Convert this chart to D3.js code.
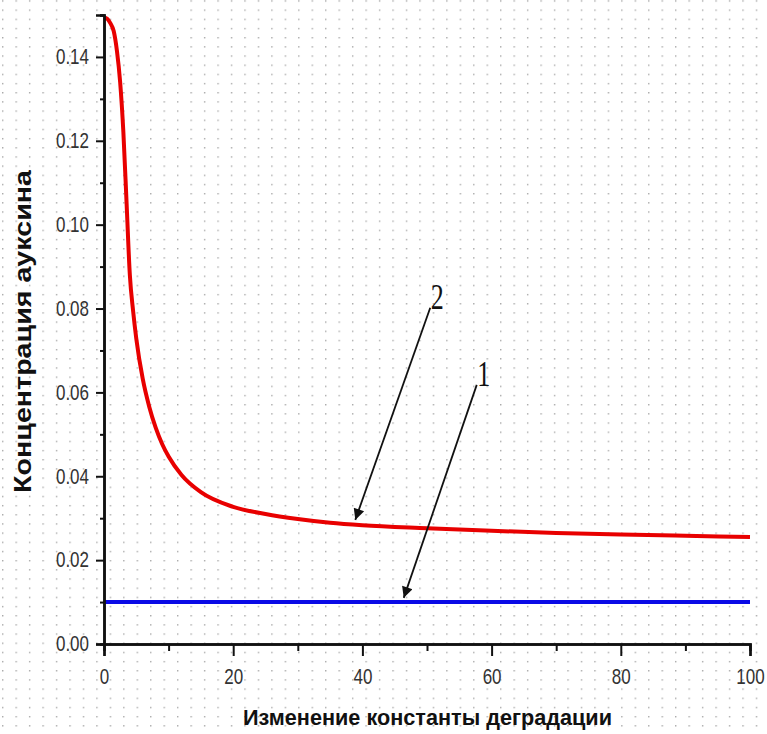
<!DOCTYPE html>
<html><head><meta charset="utf-8">
<script src="https://cdn.jsdelivr.net/npm/d3@7"></script>
<style>body{margin:0;background:#fff}svg{display:block}</style>
</head><body>
<script>
// Data
const xValues = [0,0.5,1,1.5,2,2.5,3,3.5,4,4.5,5,6,7,8,9,10,12,15,20,25,30,35,40,50,60,70,80,90,100];
const curve2 = [0.1494,0.1491,0.1480,0.1462,0.1415,0.134,0.122,0.105,0.088,0.0795,0.0728,0.0632,0.0566,0.0516,0.0477,0.0447,0.0403,0.0362,0.0327,0.0310,0.0298,0.0289,0.0283,0.0276,0.0270,0.0265,0.0261,0.0258,0.0255];
const curve1X = [0,100];
const curve1 = [0.01,0.01];
const xTicks = [0,20,40,60,80,100];
const yTicks = [0,0.02,0.04,0.06,0.08,0.10,0.12,0.14];
const xLabel = "Изменение константы деградации";
const yLabel = "Концентрация ауксина";
const annotations = [
  {label:"2", from:[50.5,0.0802], to:[38.9,0.0296]},
  {label:"1", from:[57.7,0.0618], to:[46.4,0.0110]}
];

const W=767,H=734;
const svg=d3.select("body").append("svg").attr("width",W).attr("height",H);
const defs=svg.append("defs");
const pat=defs.append("pattern").attr("id","dots").attr("patternUnits","userSpaceOnUse")
  .attr("width",13.46).attr("height",9.175).attr("x",2).attr("y",0.3);
pat.append("rect").attr("x",0).attr("y",0).attr("width",1.4).attr("height",1.4).attr("fill","#a8a8a8");
defs.append("marker").attr("id","arr").attr("viewBox","0 0 10 10").attr("refX",10).attr("refY",5)
  .attr("markerWidth",18).attr("markerHeight",11).attr("markerUnits","userSpaceOnUse").attr("orient","auto")
  .append("path").attr("d","M0,0L10,5L0,10Z").attr("fill","#111");

svg.append("rect").attr("width",W).attr("height",H).attr("fill","#fff");
svg.append("rect").attr("width",W).attr("height",H).attr("fill","url(#dots)");

const x=d3.scaleLinear().domain([0,100]).range([104,750]);
const y=d3.scaleLinear().domain([0,0.15]).range([644,15]);

// lines
const line=d3.line().x(d=>x(d[0])).y(d=>y(d[1])).curve(d3.curveMonotoneX);
svg.append("path").datum(curve1X.map((v,i)=>[v,curve1[i]])).attr("d",line)
  .attr("fill","none").attr("stroke","#0a0ae6").attr("stroke-width",4);
svg.append("path").datum(xValues.map((v,i)=>[v,curve2[i]])).attr("d",line)
  .attr("fill","none").attr("stroke","#e80000").attr("stroke-width",4).attr("stroke-linejoin","round");

// axes
svg.append("g").attr("transform",`translate(0,${y(0)})`)
  .call(d3.axisBottom(x).tickValues(d3.range(10,100,20)).tickSize(7).tickFormat(""));
const xMaj=svg.append("g").attr("transform",`translate(0,${y(0)})`)
  .call(d3.axisBottom(x).tickValues(xTicks).tickSize(12).tickPadding(14).tickFormat(d3.format("d")));
svg.append("g").attr("transform",`translate(${x(0)},0)`)
  .call(d3.axisLeft(y).tickValues(d3.range(0.01,0.16,0.02)).tickSize(4).tickFormat(""));
const yMaj=svg.append("g").attr("transform",`translate(${x(0)},0)`)
  .call(d3.axisLeft(y).tickValues(yTicks).tickSize(8).tickPadding(7).tickFormat(d3.format(".2f")));
svg.selectAll(".domain").attr("stroke","#111").attr("stroke-width",2.5);
svg.selectAll(".tick line").attr("stroke","#111").attr("stroke-width",2);
svg.selectAll(".tick text").attr("fill","#333").style("font-family","Liberation Sans, Arial, sans-serif").style("font-size","17px");
yMaj.selectAll(".tick text").attr("transform","scale(1,1.25)");
xMaj.selectAll(".tick text").attr("transform","translate(0,-8) scale(1,1.25)");

// axis titles
svg.append("text").attr("x",243).attr("y",725).attr("textLength",369).attr("lengthAdjust","spacingAndGlyphs")
  .style("font-family","Liberation Sans, Arial, sans-serif").style("font-weight","bold").style("font-size","22px")
  .attr("fill","#111").text(xLabel);
svg.append("text").attr("transform","translate(31,493) rotate(-90)").attr("textLength",323).attr("lengthAdjust","spacingAndGlyphs")
  .style("font-family","Liberation Sans, Arial, sans-serif").style("font-weight","bold").style("font-size","24px")
  .attr("fill","#111").text(yLabel);

// annotations
annotations.forEach(a=>{
  svg.append("line").attr("x1",x(a.from[0])).attr("y1",y(a.from[1])).attr("x2",x(a.to[0])).attr("y2",y(a.to[1]))
    .attr("stroke","#111").attr("stroke-width",1.8).attr("marker-end","url(#arr)");
  svg.append("text").attr("x",x(a.from[0])+7).attr("y",y(a.from[1])+1)
    .attr("text-anchor","middle").style("font-family","Liberation Serif, Times New Roman, serif").style("font-size","26px")
    .attr("fill","#111").attr("transform",`translate(0,${-(y(a.from[1])+1)*0.35}) scale(1,1.35)`).text(a.label);
});
</script>
</body></html>
